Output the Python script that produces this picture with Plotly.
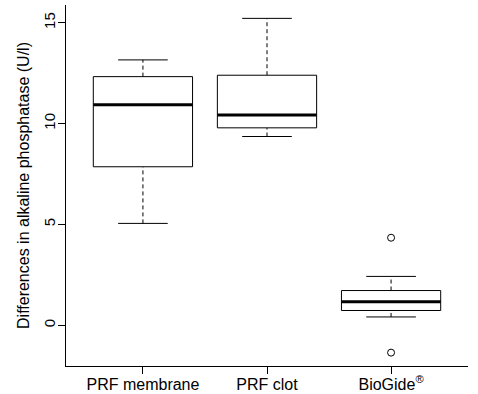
import plotly.graph_objects as go

# ---- data ----
categories = ["PRF membrane", "PRF clot", "BioGide<sup>®</sup>"]
lower_whisker = [5.05, 9.36, 0.41]
q1 = [7.86, 9.79, 0.73]
median = [10.93, 10.43, 1.16]
q3 = [12.33, 12.40, 1.72]
upper_whisker = [13.16, 15.22, 2.42]
outliers = [[], [], [4.34, -1.36]]
y_ticks = [0, 5, 10, 15]

# ---- style ----
FONT = "Liberation Sans, Arial, sans-serif"
HALF_BOX = 0.4
HALF_CAP = 0.2

positions = [i + 1 for i in range(len(categories))]

box_x, box_y = [], []
med_x, med_y = [], []
wh_x, wh_y = [], []
cap_x, cap_y = [], []
out_x, out_y = [], []
for i, c in enumerate(positions):
    box_x += [c - HALF_BOX, c + HALF_BOX, c + HALF_BOX, c - HALF_BOX, c - HALF_BOX, None]
    box_y += [q1[i], q1[i], q3[i], q3[i], q1[i], None]
    med_x += [c - HALF_BOX, c + HALF_BOX, None]
    med_y += [median[i], median[i], None]
    wh_x += [c, c, None, c, c, None]
    wh_y += [q3[i], upper_whisker[i], None, lower_whisker[i], q1[i], None]
    cap_x += [c - HALF_CAP, c + HALF_CAP, None, c - HALF_CAP, c + HALF_CAP, None]
    cap_y += [upper_whisker[i], upper_whisker[i], None, lower_whisker[i], lower_whisker[i], None]
    for o in outliers[i]:
        out_x.append(c)
        out_y.append(o)

fig = go.Figure()
fig.add_trace(go.Scatter(x=wh_x, y=wh_y, mode="lines",
                         line=dict(color="black", width=1, dash="4px,3px"),
                         hoverinfo="skip"))
fig.add_trace(go.Scatter(x=cap_x, y=cap_y, mode="lines",
                         line=dict(color="black", width=1), hoverinfo="skip"))
fig.add_trace(go.Scatter(x=box_x, y=box_y, mode="lines", fill="toself",
                         fillcolor="white", line=dict(color="black", width=1)))
fig.add_trace(go.Scatter(x=med_x, y=med_y, mode="lines",
                         line=dict(color="black", width=3)))
fig.add_trace(go.Scatter(x=out_x, y=out_y, mode="markers",
                         marker=dict(symbol="circle-open", size=7,
                                     color="black", line=dict(width=1))))

all_vals = lower_whisker + upper_whisker + [v for o in outliers for v in o]
lo, hi = min(all_vals), max(all_vals)
pad = 0.04 * (hi - lo)

fig.update_layout(
    width=478, height=394,
    margin=dict(l=66, r=10, t=5, b=28),
    paper_bgcolor="white", plot_bgcolor="white",
    showlegend=False,
    font=dict(family=FONT, color="black", size=15),
    xaxis=dict(
        range=[0.38, 3.62], tickmode="array", tickvals=positions,
        ticktext=categories, showgrid=False, zeroline=False,
        showline=True, linecolor="black", linewidth=1,
        ticks="outside", ticklen=7, tickcolor="black",
        tickfont=dict(size=16), automargin=False,
        ticklabelstandoff=-3,
    ),
    yaxis=dict(
        range=[lo - pad, hi + pad], tickmode="array", tickvals=y_ticks,
        showgrid=False, zeroline=False,
        showline=True, linecolor="black", linewidth=1,
        ticks="outside", ticklen=7, tickcolor="black",
        tickangle=-90, tickfont=dict(size=15), automargin=False,
        ticklabelstandoff=-3,
        title=dict(text="Differences in alkaline phosphatase (U/l)",
                   font=dict(size=16), standoff=7),
    ),
)

fig.write_html(
    "out.html",
    config={"displayModeBar": False},
    post_script="document.body.style.margin='0';document.body.style.padding='0';",
)
